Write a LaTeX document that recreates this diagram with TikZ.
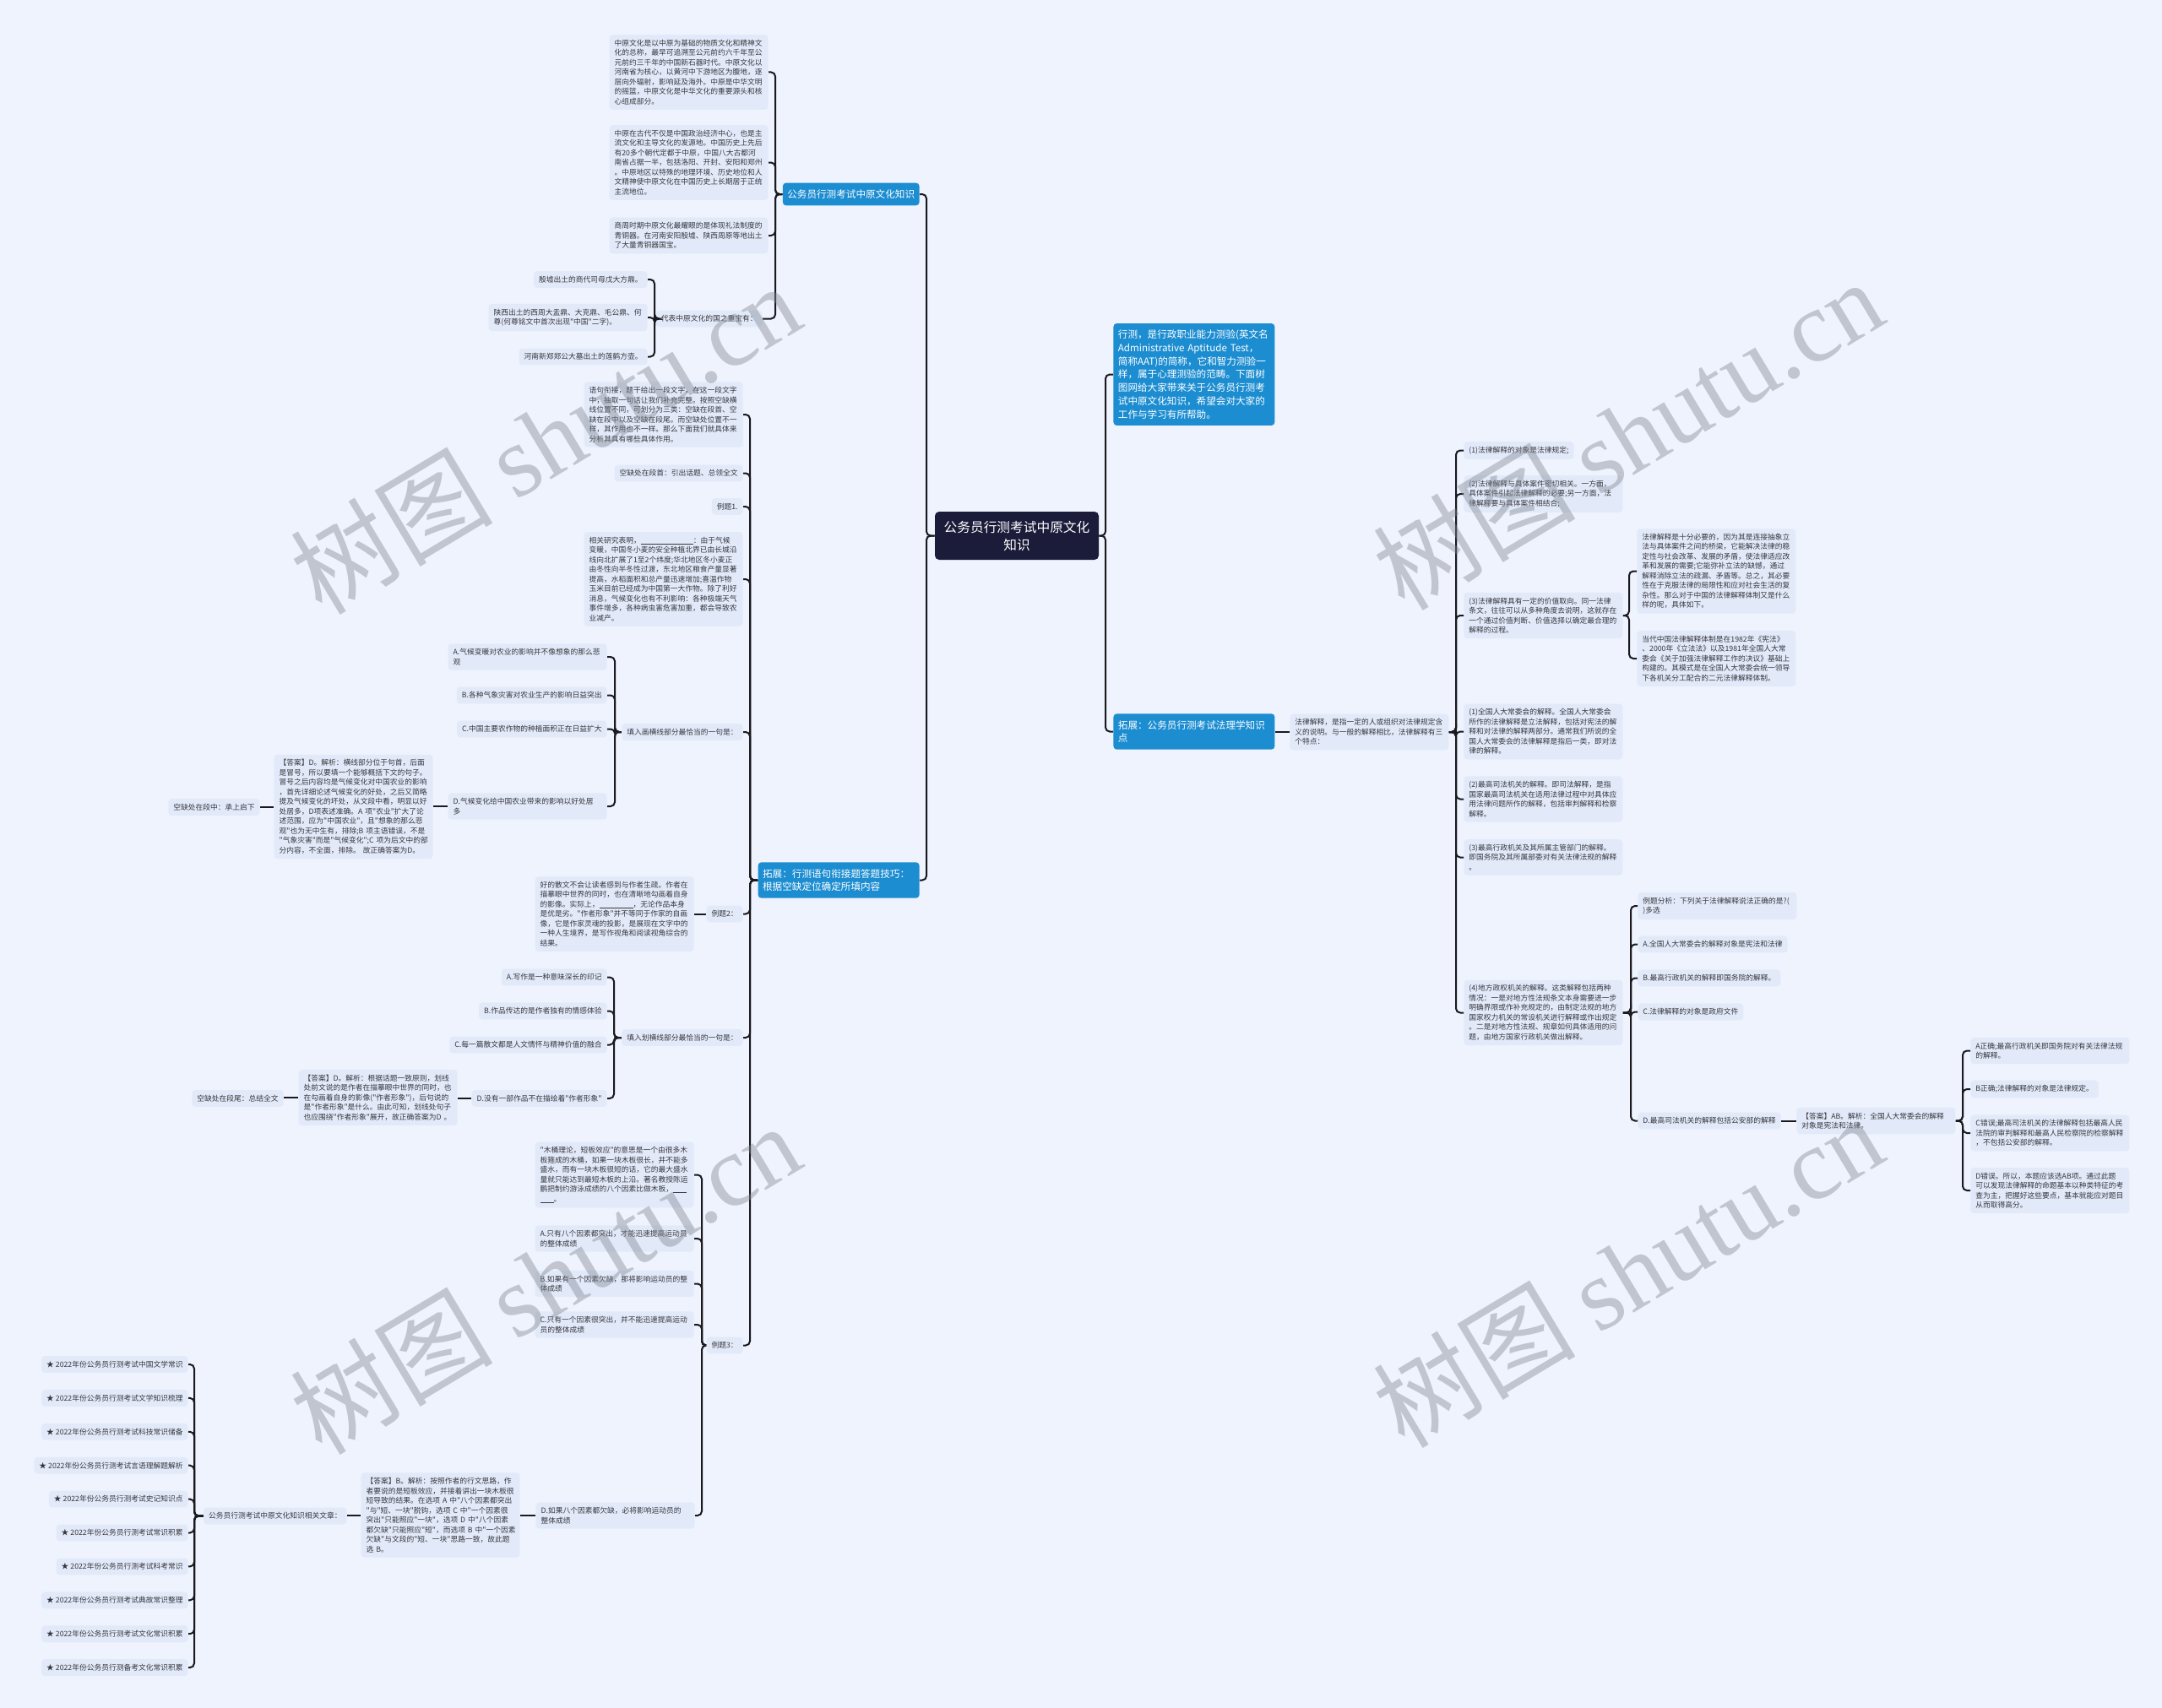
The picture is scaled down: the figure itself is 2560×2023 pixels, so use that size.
\documentclass[tikz,border=0pt]{standalone}
\usepackage{fontspec}
\setmainfont{Noto Sans CJK SC}
\newfontfamily\zhfont{Noto Sans CJK SC}
\newfontfamily\wmlatin{Liberation Serif}
\usetikzlibrary{calc}
\definecolor{bg}{RGB}{238,243,253}
\definecolor{leaf}{RGB}{226,234,250}
\definecolor{bluen}{RGB}{28,141,209}
\definecolor{rootc}{RGB}{27,28,58}
\definecolor{linec}{RGB}{25,25,30}
\definecolor{leaftext}{RGB}{55,55,60}
\definecolor{wmc}{RGB}{130,135,145}
\newcommand\blankline[1]{\rule[-0.6pt]{#1}{0.35pt}}
\newcommand\mmL[3]{\draw[conn] (#1.west) -- (#1.west -| #2) |- (#3.east);}
\newcommand\mmR[3]{\draw[conn] (#1.east) -- (#1.east -| #2) |- (#3.west);}
\tikzset{
  leafbox/.style={fill=leaf, rounded corners=2pt, inner xsep=3pt, inner ysep=2.9pt,
    font=\zhfont\fontsize{4.375pt}{5.75pt}\selectfont, align=left, text=leaftext},
  para/.style={leafbox, text width=88pt},
  bluebox/.style={fill=bluen, rounded corners=2pt, text=white, inner xsep=2.75pt, inner ysep=4pt,
    font=\zhfont\fontsize{5.8pt}{7.85pt}\selectfont, align=left},
  rootbox/.style={fill=rootc, text=white, rounded corners=2.5pt, font=\zhfont\fontsize{7.85pt}{10.5pt}\selectfont,
    align=center, minimum width=97pt, minimum height=28.5pt, inner sep=2pt},
  conn/.style={draw=linec, line width=1pt, rounded corners=2.5pt},
  wmark/.style={text=wmc, opacity=0.42, font=\zhfont\fontsize{60pt}{60pt}\selectfont, inner sep=0pt},
}
\begin{document}
\begin{tikzpicture}[x=0.5pt,y=-0.5pt]
\fill[bg] (0,0) rectangle (2560,2023);
\useasboundingbox (0,0) rectangle (2560,2023);

% ---------------- root
\node[rootbox] (root) at (1204,634.5) {公务员行测考试中原文化\\知识};

% ---------------- trunk coordinates
\coordinate (tL) at (1097,0);
\coordinate (tL1) at (918,0);
\coordinate (tp4) at (775,0);
\coordinate (tL2) at (888,0);
\coordinate (tq5) at (728,0);
\coordinate (tq7) at (727,0);
\coordinate (tq8) at (831,0);
\coordinate (trel) at (230,0);
\coordinate (tR) at (1309,0);
\coordinate (tRc) at (1724,0);
\coordinate (tc3) at (1929,0);
\coordinate (tc7) at (1931,0);
\coordinate (tAB) at (2324,0);

% ================= LEFT SIDE
\node[bluebox, anchor=east] (L1) at (1089,230) {公务员行测考试中原文化知识};
\node[bluebox, anchor=east, text width=90pt] (L2) at (1089,1042.5) {拓展：行测语句衔接题答题技巧：\\根据空缺定位确定所填内容};

\node[para, anchor=east] (p1) at (910,85.5) {中原文化是以中原为基础的物质文化和精神文\\化的总称，最早可追溯至公元前约六千年至公\\元前约三千年的中国新石器时代。中原文化以\\河南省为核心，以黄河中下游地区为腹地，逐\\层向外辐射，影响延及海外。中原是中华文明\\的摇篮，中原文化是中华文化的重要源头和核\\心组成部分。};
\node[para, anchor=east] (p2) at (910,192.5) {中原在古代不仅是中国政治经济中心，也是主\\流文化和主导文化的发源地。中国历史上先后\\有20多个朝代定都于中原，中国八大古都河\\南省占据一半，包括洛阳、开封、安阳和郑州\\。中原地区以特殊的地理环境、历史地位和人\\文精神使中原文化在中国历史上长期居于正统\\主流地位。};
\node[para, anchor=east] (p3) at (910,279) {商周时期中原文化最耀眼的是体现礼法制度的\\青铜器。在河南安阳殷墟、陕西周原等地出土\\了大量青铜器国宝。};
\node[leafbox, anchor=east] (p4) at (903,377.5) {代表中原文化的国之重宝有：};
\node[leafbox, anchor=east] (s1) at (767,331) {殷墟出土的商代司母戊大方鼎。};
\node[para, anchor=east] (s2) at (767,376) {陕西出土的西周大盂鼎、大克鼎、毛公鼎、何\\尊(何尊铭文中首次出现"中国"二字)。};
\node[leafbox, anchor=east] (s3) at (767,422.5) {河南新郑郑公大墓出土的莲鹤方壶。};

\node[para, anchor=east] (q1) at (880,491) {语句衔接，题干给出一段文字，在这一段文字\\中，抽取一句话让我们补充完整。按照空缺横\\线位置不同，可划分为三类：空缺在段首、空\\缺在段中以及空缺在段尾。而空缺处位置不一\\样，其作用也不一样。那么下面我们就具体来\\分析其具有哪些具体作用。};
\node[leafbox, anchor=east] (q2) at (880,560.5) {空缺处在段首：引出话题、总领全文};
\node[leafbox, anchor=east] (q3) at (880,600) {例题1.};
\node[para, anchor=east] (q4) at (880,686) {相关研究表明，\blankline{31pt}：由于气候\\变暖，中国冬小麦的安全种植北界已由长城沿\\线向北扩展了1至2个纬度;华北地区冬小麦正\\由冬性向半冬性过渡，东北地区粮食产量显著\\提高，水稻面积和总产量迅速增加;喜温作物\\玉米目前已经成为中国第一大作物。除了利好\\消息，气候变化也有不利影响：各种极端天气\\事件增多，各种病虫害危害加重，都会导致农\\业减产。};
\node[leafbox, anchor=east] (q5) at (880,867) {填入画横线部分最恰当的一句是：};
\node[para, anchor=east] (qa) at (719,778) {A.气候变暖对农业的影响并不像想象的那么悲\\观};
\node[leafbox, anchor=east] (qb) at (719,823.5) {B.各种气象灾害对农业生产的影响日益突出};
\node[leafbox, anchor=east] (qc) at (719,863.5) {C.中国主要农作物的种植面积正在日益扩大};
\node[para, anchor=east] (qd) at (719,955) {D.气候变化给中国农业带来的影响以好处居\\多};
\node[para, anchor=east] (ans1) at (513,955.5) {【答案】D。解析：横线部分位于句首，后面\\是冒号，所以要填一个能够概括下文的句子。\\冒号之后内容均是气候变化对中国农业的影响\\，首先详细论述气候变化的好处，之后又简略\\提及气候变化的坏处，从文段中看，明显以好\\处居多，D项表述准确。A~项"农业"扩大了论\\述范围，应为"中国农业"，且"想象的那么悲\\观"也为无中生有，排除;B~项主语错误，不是\\"气象灾害"而是"气候变化";C~项为后文中的部\\分内容，不全面，排除。~故正确答案为D。};
\node[leafbox, anchor=east] (sd) at (308,956) {空缺处在段中：承上启下};

\node[leafbox, anchor=east] (q6) at (880,1082.5) {例题2：};
\node[para, anchor=east] (ex2) at (822,1082.5) {好的散文不会让读者感到与作者生疏。作者在\\描摹眼中世界的同时，也在清晰地勾画着自身\\的影像。实际上，\blankline{20pt}，无论作品本身\\是优是劣。"作者形象"并不等同于作家的自画\\像，它是作家灵魂的投影，是展现在文字中的\\一种人生境界，是写作视角和阅读视角综合的\\结果。};
\node[leafbox, anchor=east] (q7) at (880,1229) {填入划横线部分最恰当的一句是：};
\node[leafbox, anchor=east] (ra) at (719,1157.5) {A.写作是一种意味深长的印记};
\node[leafbox, anchor=east] (rb) at (719,1197.5) {B.作品传达的是作者独有的情感体验};
\node[leafbox, anchor=east] (rcc) at (719,1237.5) {C.每一篇散文都是人文情怀与精神价值的融合};
\node[leafbox, anchor=east] (rd) at (719,1301) {D.没有一部作品不在描绘着"作者形象"};
\node[para, anchor=east] (ans2) at (542,1300) {【答案】D。解析：根据话题一致原则，划线\\处前文说的是作者在描摹眼中世界的同时，也\\在勾画着自身的影像("作者形象")，后句说的\\是"作者形象"是什么。由此可知，划线处句子\\也应围绕"作者形象"展开，故正确答案为D~。};
\node[leafbox, anchor=east] (sw) at (336,1301) {空缺处在段尾：总结全文};

\node[leafbox, anchor=east] (q8) at (880,1593.5) {例题3：};
\node[para, anchor=east] (wt) at (822,1391.5) {"木桶理论，短板效应"的意思是一个由很多木\\板箍成的木桶，如果一块木板很长，并不能多\\盛水，而有一块木板很短的话，它的最大盛水\\量就只能达到最短木板的上沿。著名教授陈运\\鹏把制约游泳成绩的八个因素比做木板，\blankline{8pt}\\\blankline{8pt}。};
\node[para, anchor=east] (ta) at (822,1467) {A.只有八个因素都突出，才能迅速提高运动员\\的整体成绩};
\node[para, anchor=east] (tb) at (822,1520.5) {B.如果有一个因素欠缺，那将影响运动员的整\\体成绩};
\node[para, anchor=east] (tc) at (822,1569) {C.只有一个因素很突出，并不能迅速提高运动\\员的整体成绩};
\node[para, anchor=east] (td) at (823,1795) {D.如果八个因素都欠缺，必将影响运动员的\\整体成绩};
\node[para, anchor=east] (ans3) at (616,1794.5) {【答案】B。解析：按照作者的行文思路，作\\者要说的是短板效应，并接着讲出一块木板很\\短导致的结果。在选项~A~中"八个因素都突出\\"与"短、一块"脱钩，选项~C~中"一个因素很\\突出"只能照应"一块"，选项~D~中"八个因素\\都欠缺"只能照应"短"，而选项~B~中"一个因素\\欠缺"与文段的"短、一块"思路一致，故此题\\选~B。};
\node[leafbox, anchor=east] (rel) at (411,1795.5) {公务员行测考试中原文化知识相关文章：};

\foreach \t [count=\i] in {
  ★ 2022年份公务员行测考试中国文学常识,
  ★ 2022年份公务员行测考试文学知识梳理,
  ★ 2022年份公务员行测考试科技常识储备,
  ★ 2022年份公务员行测考试言语理解题解析,
  ★ 2022年份公务员行测考试史记知识点,
  ★ 2022年份公务员行测考试常识积累,
  ★ 2022年份公务员行测考试科考常识,
  ★ 2022年份公务员行测考试典故常识整理,
  ★ 2022年份公务员行测考试文化常识积累,
  ★ 2022年份公务员行测备考文化常识积累}{
  \node[leafbox, anchor=east] (it\i) at (223,{1616+39.9*(\i-1)}) {\t};
}

% ================= RIGHT SIDE
\node[bluebox, anchor=west, text width=90pt] (R1) at (1318,443.5) {行测，是行政职业能力测验(英文名\\Administrative Aptitude Test，\\简称AAT)的简称，它和智力测验一\\样，属于心理测验的范畴。下面树\\图网给大家带来关于公务员行测考\\试中原文化知识，希望会对大家的\\工作与学习有所帮助。};
\node[bluebox, anchor=west, text width=90pt] (R2) at (1318,866.5) {拓展：公务员行测考试法理学知识\\点};
\node[para, anchor=west] (R2c) at (1527,867) {法律解释，是指一定的人或组织对法律规定含\\义的说明。与一般的解释相比，法律解释有三\\个特点：};

\node[leafbox, anchor=west] (c1) at (1733,533.5) {(1)法律解释的对象是法律规定;};
\node[para, anchor=west] (c2) at (1733,585) {(2)法律解释与具体案件密切相关。一方面，\\具体案件引起法律解释的必要;另一方面，法\\律解释要与具体案件相结合;};
\node[para, anchor=west] (c3) at (1733,729) {(3)法律解释具有一定的价值取向。同一法律\\条文，往往可以从多种角度去说明，这就存在\\一个通过价值判断、价值选择以确定最合理的\\解释的过程。};
\node[para, anchor=west] (d1) at (1938,676.5) {法律解释是十分必要的，因为其是连接抽象立\\法与具体案件之间的桥梁，它能解决法律的稳\\定性与社会改革、发展的矛盾，使法律适应改\\革和发展的需要;它能弥补立法的缺憾，通过\\解释消除立法的疏漏、矛盾等。总之，其必要\\性在于克服法律的局限性和应对社会生活的复\\杂性。那么对于中国的法律解释体制又是什么\\样的呢，具体如下。};
\node[para, anchor=west] (d2) at (1938,780) {当代中国法律解释体制是在1982年《宪法》\\、2000年《立法法》以及1981年全国人大常\\委会《关于加强法律解释工作的决议》基础上\\构建的。其模式是在全国人大常委会统一领导\\下各机关分工配合的二元法律解释体制。};
\node[para, anchor=west] (c4) at (1733,866.5) {(1)全国人大常委会的解释。全国人大常委会\\所作的法律解释是立法解释，包括对宪法的解\\释和对法律的解释两部分。通常我们所说的全\\国人大常委会的法律解释是指后一类，即对法\\律的解释。};
\node[para, anchor=west] (c5) at (1733,946.5) {(2)最高司法机关的解释。即司法解释，是指\\国家最高司法机关在适用法律过程中对具体应\\用法律问题所作的解释，包括审判解释和检察\\解释。};
\node[para, anchor=west] (c6) at (1733,1015.5) {(3)最高行政机关及其所属主管部门的解释。\\即国务院及其所属部委对有关法律法规的解释\\。};
\node[para, anchor=west] (c7) at (1733,1199.5) {(4)地方政权机关的解释。这类解释包括两种\\情况：一是对地方性法规条文本身需要进一步\\明确界限或作补充规定的，由制定法规的地方\\国家权力机关的常设机关进行解释或作出规定\\。二是对地方性法规、规章如何具体适用的问\\题，由地方国家行政机关做出解释。};

\node[para, anchor=west] (e1) at (1939,1073) {例题分析：下列关于法律解释说法正确的是?(\\)多选};
\node[leafbox, anchor=west] (e2) at (1939,1118.5) {A.全国人大常委会的解释对象是宪法和法律};
\node[leafbox, anchor=west] (e3) at (1939,1158.5) {B.最高行政机关的解释即国务院的解释。};
\node[leafbox, anchor=west] (e4) at (1939,1198.5) {C.法律解释的对象是政府文件};
\node[leafbox, anchor=west] (e5) at (1939,1327.5) {D.最高司法机关的解释包括公安部的解释};
\node[para, anchor=west] (AB) at (2127,1327.5) {【答案】AB。解析：全国人大常委会的解释\\对象是宪法和法律。};
\node[para, anchor=west] (f1) at (2333,1244.5) {A正确;最高行政机关即国务院对有关法律法规\\的解释。};
\node[leafbox, anchor=west] (f2) at (2333,1290) {B正确;法律解释的对象是法律规定。};
\node[para, anchor=west] (f3) at (2333,1342) {C错误;最高司法机关的法律解释包括最高人民\\法院的审判解释和最高人民检察院的检察解释\\，不包括公安部的解释。};
\node[para, anchor=west] (f4) at (2333,1410) {D错误。所以，本题应该选AB项。通过此题\\可以发现法律解释的命题基本以种类特征的考\\查为主，把握好这些要点，基本就能应对题目\\从而取得高分。};

% ================= CONNECTORS
% root
\mmL{root}{tL}{L1}
\mmL{root}{tL}{L2}
\mmR{root}{tR}{R1}
\mmR{root}{tR}{R2}
% L1
\foreach \c in {p1,p2,p3,p4} {\mmL{L1}{tL1}{\c}}
\foreach \c in {s1,s2,s3} {\mmL{p4}{tp4}{\c}}
% L2
\foreach \c in {q1,q2,q3,q4,q5,q6,q7,q8} {\mmL{L2}{tL2}{\c}}
\foreach \c in {qa,qb,qc,qd} {\mmL{q5}{tq5}{\c}}
\draw[conn] (qd.west) -- (ans1.east |- qd.west);
\draw[conn] (ans1.west) -- (sd.east |- ans1.west);
\draw[conn] (q6.west) -- (ex2.east |- q6.west);
\foreach \c in {ra,rb,rcc,rd} {\mmL{q7}{tq7}{\c}}
\draw[conn] (rd.west) -- (ans2.east |- rd.west);
\draw[conn] (ans2.west) -- (sw.east |- ans2.west);
\foreach \c in {wt,ta,tb,tc,td} {\mmL{q8}{tq8}{\c}}
\draw[conn] (td.west) -- (ans3.east |- td.west);
\draw[conn] (ans3.west) -- (rel.east |- ans3.west);
\foreach \i in {1,...,10} {\mmL{rel}{trel}{it\i}}
% R2
\draw[conn] (R2.east) -- (R2c.west |- R2.east);
\foreach \c in {c1,c2,c3,c4,c5,c6,c7} {\mmR{R2c}{tRc}{\c}}
\foreach \c in {d1,d2} {\mmR{c3}{tc3}{\c}}
\foreach \c in {e1,e2,e3,e4,e5} {\mmR{c7}{tc7}{\c}}
\draw[conn] (e5.east) -- (AB.west |- e5.east);
\foreach \c in {f1,f2,f3,f4} {\mmR{AB}{tAB}{\c}}

% ================= WATERMARKS
\node[wmark, rotate=31] (wm1) at (645,519) {树图 {\wmlatin shutu.cn}};
\node[wmark, rotate=31] (wm2) at (1927,514) {树图 {\wmlatin shutu.cn}};
\node[wmark, rotate=31] (wm3) at (645,1514) {树图 {\wmlatin shutu.cn}};
\node[wmark, rotate=31] (wm4) at (1927,1506) {树图 {\wmlatin shutu.cn}};
\end{tikzpicture}
\end{document}
